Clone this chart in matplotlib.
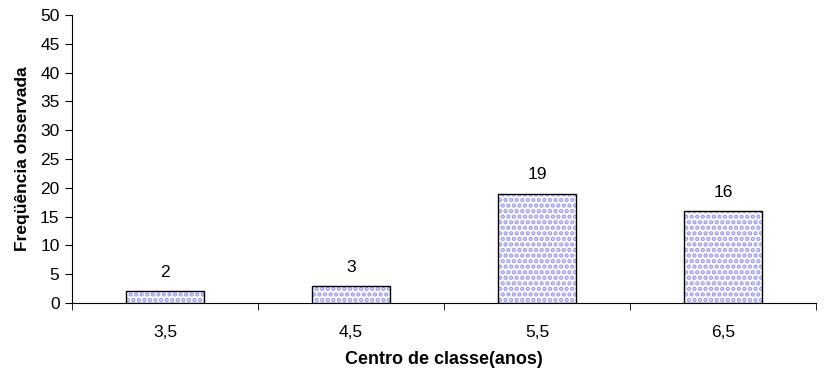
import matplotlib.pyplot as plt
import numpy as np

plt.rcParams['font.family'] = ['Liberation Sans', 'DejaVu Sans']
plt.rcParams['hatch.linewidth'] = 2.2

# classes e frequencias
centros = ['3,5', '4,5', '5,5', '6,5']
freq = [2, 3, 19, 16]

fig = plt.figure(figsize=(8.27, 3.72), dpi=100)
ax = fig.add_axes([0.0871, 0.1855, 0.8996, 0.7742])

x = np.arange(len(centros))
larg = 0.42

# preenchimento pontilhado + contorno preto
ax.bar(x, freq, width=larg, color='white', edgecolor='#9a9aff', hatch='...', linewidth=0)
ax.bar(x, freq, width=larg, color='none', edgecolor='black', linewidth=1)

for xi, v in zip(x, freq):
    ax.annotate(str(v), (xi, v), xytext=(0, 8), textcoords='offset points',
                ha='center', va='bottom', fontsize=12.5)

ax.set_xlim(-0.5, len(centros) - 0.5)
ax.set_ylim(0, 50)
ax.set_yticks(range(0, 51, 5))
ax.set_xticks(x)
ax.set_xticklabels(centros, fontsize=12.5)
ax.set_xticks(np.arange(-0.5, len(centros)), minor=True)
ax.tick_params(axis='x', which='major', length=0, pad=16)
ax.tick_params(axis='x', which='minor', length=5, direction='out')
ax.tick_params(axis='y', length=5, direction='out', labelsize=12.5, pad=4)

ax.spines['top'].set_visible(False)
ax.spines['right'].set_visible(False)

ax.set_xlabel('Centro de classe(anos)', fontsize=13, fontweight='bold', labelpad=8)
ax.set_ylabel('Freqüência observada', fontsize=12.5, fontweight='bold', labelpad=7)

fig.savefig('out.png', dpi=100)
